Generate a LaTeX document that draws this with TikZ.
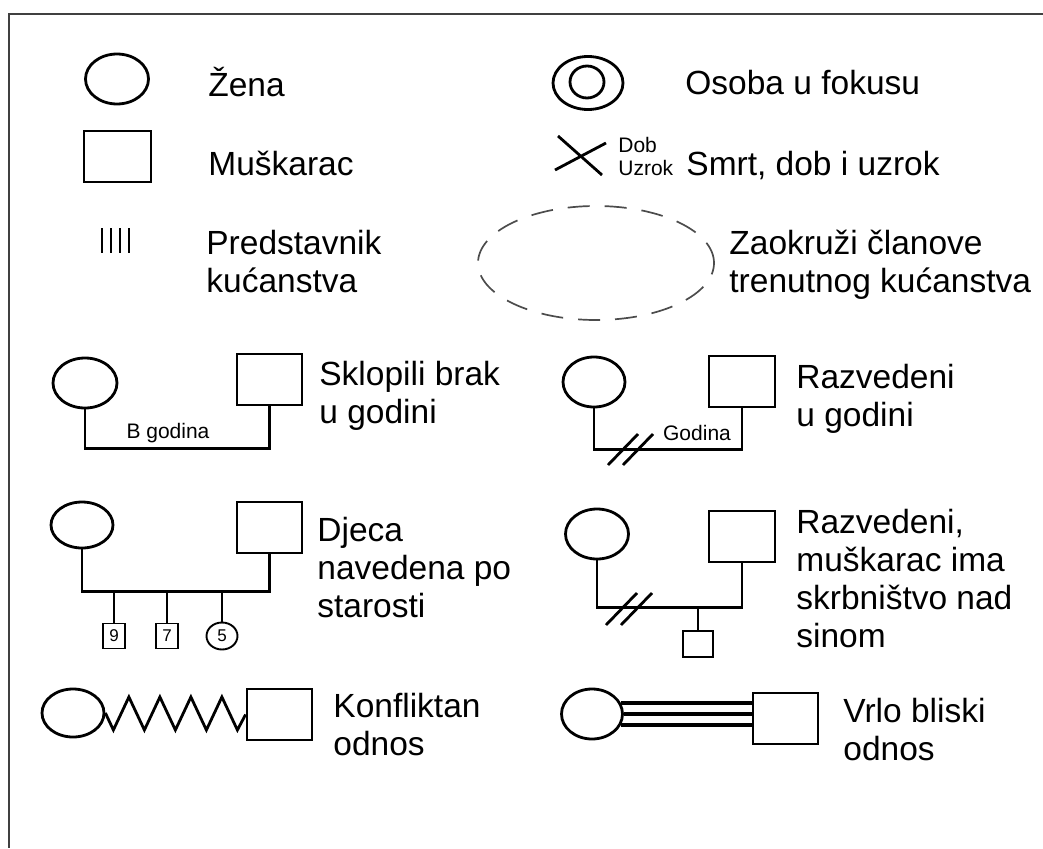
\documentclass[tikz,border=0pt]{standalone}
\usepackage{fontspec}
\setmainfont{Liberation Sans}
\usetikzlibrary{shapes.geometric}

\begin{document}
\begin{tikzpicture}[x=1pt, y=-1pt, line width=2.8pt,
    zena/.style={ellipse, draw, inner sep=0pt, minimum width=63, minimum height=50},
    musko/.style={rectangle, draw, inner sep=0pt, minimum width=66, minimum height=51},
    lbl/.style={font=\fontsize{33.5}{38}\selectfont, anchor=base west, align=left, inner sep=0pt},
    mali/.style={font=\fontsize{21}{23}\selectfont, inner sep=0pt},
    dijete/.style={rectangle, draw, line width=1.9pt, inner sep=0pt, minimum width=22, minimum height=25, font=\fontsize{17}{17}\selectfont}]

    \useasboundingbox (0,0) rectangle (1043,848);
    \draw[line width=2.2pt, black!75] (1043,14) -- (9,14) -- (9,848);

    % legenda: osobe
    \node[zena] (zena) at (117,79) {};
    \node[lbl] (zenaT) at (207,97) {Žena};
    \node[musko, minimum width=67] (musk) at (117.5,156.5) {};
    \node[lbl] (muskT) at (207,175) {Muškarac};
    \foreach \x in {102,111,120,129}
        \draw[line width=2.4pt] (\x,228) -- (\x,253);
    \node[lbl] (predT) at (205,292) {Predstavnik\\kućanstva};

    \node[zena, minimum width=70, minimum height=53] (fokus) at (588,83) {};
    \node[zena, minimum width=34, minimum height=32] (fokusU) at (587,82) {};
    \node[lbl] (fokusT) at (684,95) {Osoba u fokusu};
    \draw (558,136) -- (602,175);
    \draw (555,170) -- (606,143);
    \node[mali, anchor=base west, align=left] (dobT) at (617,175) {Dob\\Uzrok};
    \node[lbl] (smrtT) at (685,175) {Smrt, dob i uzrok};

    \node[zena, dashed, draw=black!70, line width=1.7pt, dash pattern=on 22pt off 15pt,
          minimum width=236, minimum height=114] (kuc) at (596,263) {};
    \node[lbl] (kucT) at (728,292) {Zaokruži članove\\trenutnog kućanstva};

    % brak
    \node[zena, minimum width=64] (brakZ) at (85,383) {};
    \node[musko, minimum width=65] (brakM) at (269.5,379.5) {};
    \draw (brakZ.south) -- ++(0,39) -| (brakM.south);
    \node[mali, anchor=base] (brakG) at (168,438) {B godina};
    \node[lbl] (brakT) at (318,423) {Sklopili brak\\u godini};

    % razvod
    \node[zena, minimum width=62] (razZ) at (594,382) {};
    \node[musko] (razM) at (742,381.5) {};
    \draw (razZ.south) -- ++(0,41) -| (razM.south);
    \draw (608,465) -- (638,434);
    \draw (623,465) -- (653,434);
    \node[mali, anchor=base] (razG) at (697,440) {Godina};
    \node[lbl] (razT) at (795,426) {Razvedeni\\u godini};

    % djeca
    \node[zena, minimum width=62, minimum height=46] (djZ) at (82,525) {};
    \node[musko, minimum width=65] (djM) at (269.5,527.5) {};
    \draw (djZ.south) -- ++(0,42) coordinate (djL) -| (djM.south);
    \node[dijete] (d9) at (114,636) {9};
    \node[dijete] (d7) at (167,636) {7};
    \node[zena, line width=1.9pt, minimum width=31, minimum height=27, font=\fontsize{17}{17}\selectfont] (d5) at (222,636) {5};
    \foreach \d in {d9,d7,d5}
        \draw (\d.north) -- (\d.north |- djL);
    \node[lbl] (djT) at (316,617) {Djeca\\navedena po\\starosti};

    % skrbnistvo
    \node[zena] (skZ) at (597,534) {};
    \node[musko] (skM) at (742,536.5) {};
    \draw (skZ.south) -- ++(0,47) coordinate (skL) -| (skM.south);
    \draw (606,625) -- (637,593);
    \draw (621,625) -- (652,593);
    \node[musko, minimum width=30, minimum height=26] (sin) at (698,644) {};
    \draw (sin.north) -- (sin.north |- skL);
    \node[lbl] (skT) at (795,647) {Razvedeni,\\muškarac ima\\skrbništvo nad\\sinom};

    % konflikt
    \node[zena, minimum width=62, minimum height=48] (konZ) at (73,713) {};
    \node[musko, minimum width=65] (konM) at (279.5,714.5) {};
    \draw[line join=miter] (konZ.east) -- ++(8,17)
        \foreach \i in {1,...,4} { -- ++(15.5,-33) -- ++(15.5,33) } -- (konM.west);
    \node[lbl] (konT) at (332,755) {Konfliktan\\odnos};

    % bliski odnos
    \node[zena, minimum width=61] (bliZ) at (592,714) {};
    \node[musko, minimum width=65] (bliM) at (785.5,718.5) {};
    \draw[line width=4pt] (bliZ.20) -- (bliZ.20 -| bliM.west);
    \draw[line width=4pt] (bliZ.east) -- (bliZ.east -| bliM.west);
    \draw[line width=4pt] (bliZ.-20) -- (bliZ.-20 -| bliM.west);
    \node[lbl] (bliT) at (842,760) {Vrlo bliski\\odnos};
\end{tikzpicture}
\end{document}
